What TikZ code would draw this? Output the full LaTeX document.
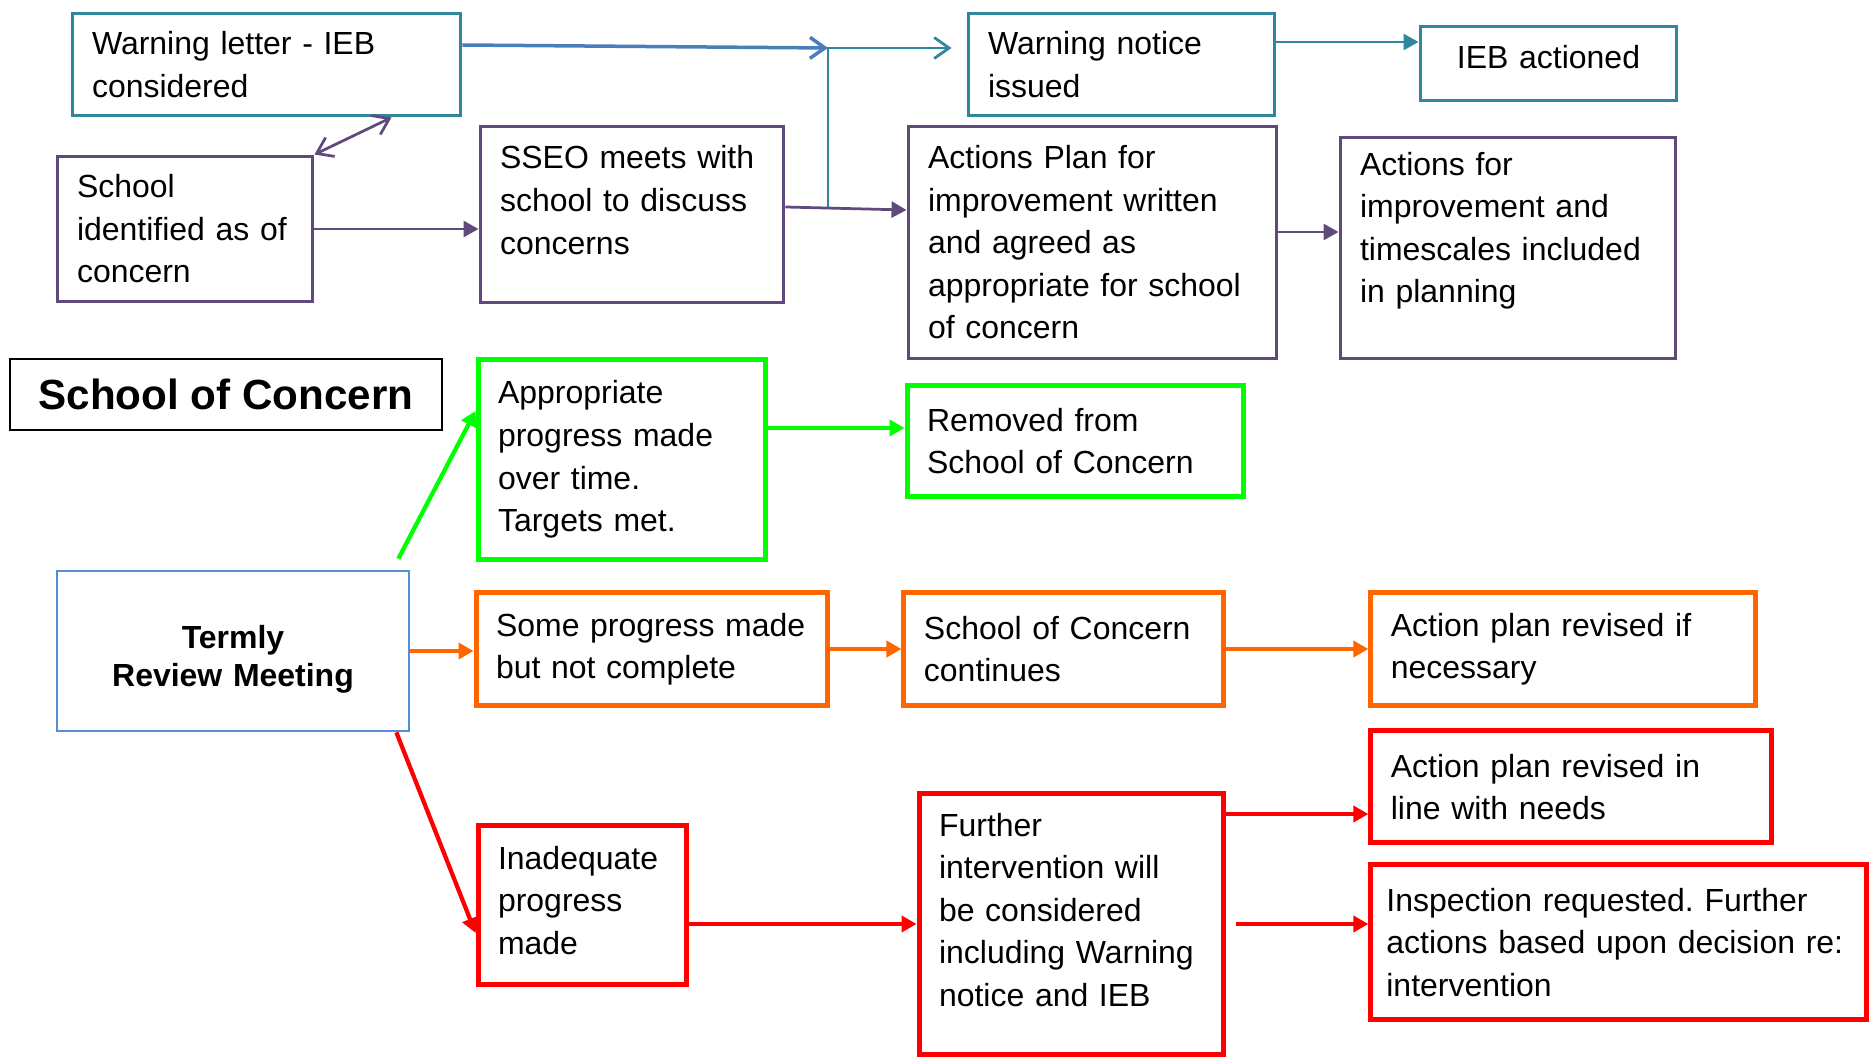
\documentclass[tikz,border=0pt]{standalone}
\usepackage{fontspec}
\setmainfont{Liberation Sans}
\frenchspacing
\usetikzlibrary{arrows.meta,positioning}
\definecolor{warnteal}{RGB}{49,133,156}
\definecolor{letterblue}{RGB}{74,126,187}
\definecolor{planpurple}{RGB}{96,74,123}
\definecolor{meetblue}{RGB}{85,142,213}
\definecolor{goodgreen}{RGB}{0,255,0}
\definecolor{someorange}{RGB}{255,102,0}
\definecolor{badred}{RGB}{255,0,0}
\tikzset{
    %Define standard arrow tips
    >={Triangle[length=0.3cm,width=0.32cm]},
    barb/.tip={Straight Barb[length=0.3cm,width=0.42cm]},
    %Define style for boxes
    rect/.style={
           rectangle,
           draw,
           inner xsep=0.4cm,
           align=left,
           font=\fontsize{18.2}{24.2}\selectfont},
    warnrect/.style={rect, draw=warnteal, line width=0.06cm},
    planrect/.style={rect, draw=planpurple, line width=0.06cm},
    goodrect/.style={rect, draw=goodgreen, line width=0.1cm},
    somerect/.style={rect, draw=someorange, line width=0.1cm},
    badrect/.style={rect, draw=badred, line width=0.1cm},
    meetrect/.style={
           rect,
           draw=meetblue, line width=0.055cm,
           align=center,
           font=\fontsize{18.2}{21.6}\selectfont\bfseries},
    titlerect/.style={
           rect,
           draw=black, line width=0.04cm,
           align=center,
           font=\fontsize{24}{28}\selectfont\bfseries},
    % Define arrow styles
    openpil/.style={-barb, line width=0.055cm},
    pil/.style={->, line width=0.055cm},
    fatpil/.style={->, line width=0.085cm}
}

\begin{document}
\begin{tikzpicture}[x=0.02cm,y=-0.02cm]
\useasboundingbox (0,0) rectangle (1869,1057);
\node[warnrect, text width=6.98cm, minimum height=2.06cm] (warnletter) at (266.5,64.5) {Warning letter - IEB\\considered};
\node[warnrect, text width=5.34cm, minimum height=2.06cm] (warnnotice) at (1121.5,64.5) {Warning notice\\issued};
\node[warnrect, text width=4.34cm, minimum height=1.5cm, align=center, text depth=7pt] (iebact) at (1548.5,63.5) {IEB actioned};
\node[planrect, text width=4.32cm, minimum height=2.92cm] (schoolid) at (185,229) {School\\identified as of\\concern};
\node[planrect, text width=5.28cm, minimum height=3.54cm, text depth=65pt] (sseo) at (632,214.5) {SSEO meets with\\school to discuss\\concerns};
\node[planrect, text width=6.58cm, minimum height=4.66cm] (actplan) at (1092.5,242.5) {Actions Plan for\\improvement written\\and agreed as\\appropriate for school\\of concern};
\node[planrect, text width=5.92cm, minimum height=4.44cm, text depth=96pt] (afi) at (1508,248) {Actions for\\improvement and\\timescales included\\in planning};
\node[titlerect, minimum width=8.64cm, minimum height=1.42cm] (title) at (226,394.5) {School of Concern};
\node[goodrect, text width=4.96cm, minimum height=4.02cm] (approp) at (622,459.5) {Appropriate\\progress made\\over time.\\Targets met.};
\node[goodrect, text width=5.94cm, minimum height=2.24cm] (removed) at (1075.5,441) {Removed from\\School of Concern};
\node[meetrect, text width=6.24cm, minimum height=3.2cm, text depth=16pt] (termly) at (233,651) {Termly\\Review Meeting};
\node[somerect, text width=6.24cm, minimum height=2.28cm] (some) at (652,649) {Some progress made\\but not complete};
\node[somerect, text width=5.6cm, minimum height=2.28cm, right=1.42cm of some] (continues) {School of Concern\\continues};
\node[somerect, text width=6.9cm, minimum height=2.28cm, right=2.84cm of continues] (revisedif) {Action plan revised if\\necessary};
\node[badrect, text width=7.22cm, minimum height=2.24cm, below=0.4cm of revisedif.south west, anchor=north west] (revisedin) {Action plan revised in\\line with needs};
\node[badrect, text width=9.3cm, inner xsep=0.31cm, minimum height=3.1cm, below=0.34cm of revisedin.south west, anchor=north west] (inspection) {Inspection requested. Further\\actions based upon decision re:\\intervention};
\node[badrect, text width=3.38cm, minimum height=3.2cm, text depth=54pt] (inadequate) at (582.5,905) {Inadequate\\progress\\made};
\node[badrect, text width=5.3cm, minimum height=5.24cm, text depth=113pt] (further) at (1071.5,924) {Further\\intervention will\\be considered\\including Warning\\notice and IEB};

\coordinate (junc) at (828,48);
\coordinate (jlow) at (828,207.5);
\coordinate (noticeout) at ([yshift=0.45cm]warnnotice.east);
\coordinate (planout) at ([yshift=0.21cm]actplan.east);
\coordinate (goodout) at ([yshift=0.63cm]approp.east);
\coordinate (furtherout) at ([yshift=2.2cm]further.east);

\draw[openpil, letterblue, line width=0.07cm] ([yshift=0.39cm]warnletter.east) -- (junc);
\draw[openpil, warnteal, shorten >=0.3cm] (jlow) -- (junc) -- (junc -| warnnotice.west);
\draw[pil, warnteal] (noticeout) -- (noticeout -| iebact.west);
\draw[barb-barb, line width=0.055cm, planpurple] (schoolid.north east) -- ([xshift=-1.42cm]warnletter.south east);
\draw[pil, planpurple] (schoolid) -- (sseo.west |- schoolid);
\draw[pil, planpurple] ([yshift=0.15cm]sseo.east) -- ([yshift=0.65cm]actplan.west);
\draw[pil, planpurple] (planout) -- (planout -| afi.west);

\draw[fatpil, goodgreen] ([shift={(-0.24cm,0.22cm)}]termly.north east) -- ([yshift=0.97cm]approp.west);
\draw[fatpil, goodgreen] (goodout) -- (goodout -| removed.west);
\draw[fatpil, someorange] (termly) -- (termly -| some.west);
\draw[fatpil, someorange] (some) -- (continues);
\draw[fatpil, someorange] (continues) -- (revisedif);
\draw[fatpil, badred] ([xshift=-0.28cm]termly.south east) -- ([yshift=-0.56cm]inadequate.west);
\draw[fatpil, badred] (inadequate.east |- further) -- (further.west);
\draw[fatpil, badred] (furtherout) -- (furtherout -| revisedin.west);
\draw[fatpil, badred] ([xshift=0.2cm]further.east) -- (further.east -| inspection.west);
\end{tikzpicture}
\end{document}
